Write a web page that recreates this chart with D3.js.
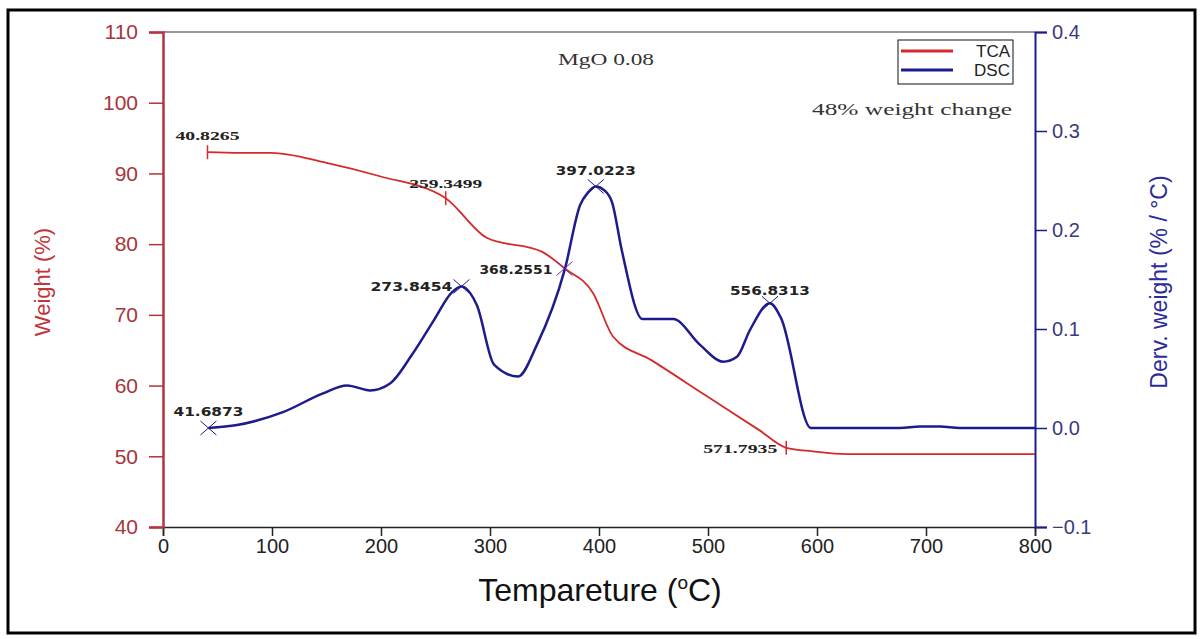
<!DOCTYPE html>
<html>
<head>
<meta charset="utf-8">
<style>
    body { margin: 0; background: #fff; }
</style>
</head>
<body>
<script src="https://d3js.org/d3.v7.min.js"></script>
<script>
    // TGA curve (weight %)
    const tgaTemp = [40.83, 70, 99, 150, 199, 259.35, 297, 348, 368.26, 394.5, 413, 448, 497, 547, 571.79, 596, 627.5, 700, 800];
    const tgaWeight = [93.0, 92.9, 92.9, 91.5, 89.6, 86.5, 80.9, 78.9, 76.6, 73.1, 66.9, 63.6, 58.7, 53.7, 51.2, 50.7, 50.3, 50.3, 50.3];

    // derivative curve (% / °C)
    const dscTemp = [41.69, 67.9, 110, 146.8, 168.8, 190, 208.3, 228.4, 248.6, 265, 273.85, 282, 288, 303.7, 325.7, 343, 368.8, 382.6, 390, 397.02, 405, 412, 421, 440, 468, 492.7, 513.8, 526.6, 538.5, 556.83, 567, 594.5, 676, 694.5, 713, 731, 800];
    const dscValue = [0.0, 0.003, 0.016, 0.035, 0.043, 0.038, 0.045, 0.074, 0.109, 0.137, 0.143, 0.136, 0.124, 0.064, 0.052, 0.084, 0.161, 0.225, 0.238, 0.244, 0.240, 0.228, 0.179, 0.110, 0.110, 0.084, 0.067, 0.072, 0.099, 0.126, 0.111, 0.0, 0.0, 0.0015, 0.0015, 0.0, 0.0];

    // labelled points
    const tgaMarkTemp = [40.8265, 259.3499, 571.7935];
    const tgaMarkWeight = [93.0, 86.5, 51.2];
    const dscMarkTemp = [41.6873, 273.8454, 368.2551, 397.0223, 556.8313];
    const dscMarkValue = [0.0, 0.143, 0.161, 0.244, 0.126];

    const xTicks = [0, 100, 200, 300, 400, 500, 600, 700, 800];
    const leftTicks = [40, 50, 60, 70, 80, 90, 100, 110];
    const rightTicks = [-0.1, 0.0, 0.1, 0.2, 0.3, 0.4];

    const W = 1202, H = 639;
    const L = 163, R = 1035, T = 32, B = 527;
    const red = "#d42a2a", redDark = "#b3343a", navy = "#1c1c8c";
    const sans = "Liberation Sans, Arial, sans-serif";
    const serif = "Liberation Serif, Times New Roman, serif";

    const svg = d3.select("body").append("svg").attr("width", W).attr("height", H)
        .attr("font-family", sans);

    // outer frame
    svg.append("rect").attr("x", 8).attr("y", 10).attr("width", 1187).attr("height", 623)
        .attr("fill", "none").attr("stroke", "#000").attr("stroke-width", 3);

    const x = d3.scaleLinear().domain([0, 800]).range([L, R]);
    const yL = d3.scaleLinear().domain([40, 110]).range([B, T]);
    const yR = d3.scaleLinear().domain([-0.1, 0.4]).range([B, T]);

    // top frame line
    svg.append("line").attr("x1", L).attr("x2", R).attr("y1", T).attr("y2", T)
        .attr("stroke", "#333").attr("stroke-width", 1.2);

    // x axis
    const gx = svg.append("g").attr("transform", `translate(0,${B})`)
        .call(d3.axisBottom(x).tickValues(xTicks).tickSize(9).tickPadding(3));
    gx.select(".domain").attr("stroke", "#222").attr("stroke-width", 1.5);
    gx.selectAll(".tick line").attr("stroke", "#222").attr("stroke-width", 1.5);
    gx.selectAll(".tick text").attr("font-size", 20).attr("fill", "#222").attr("font-family", sans);

    // left axis
    const gl = svg.append("g").attr("transform", `translate(${L},0)`)
        .call(d3.axisLeft(yL).tickValues(leftTicks).tickSize(14).tickPadding(11));
    gl.select(".domain").attr("stroke", redDark).attr("stroke-width", 2.5);
    gl.selectAll(".tick line").attr("stroke", redDark).attr("stroke-width", 1.5);
    gl.selectAll(".tick text").attr("font-size", 21).attr("fill", "#a8343c").attr("font-family", sans);

    // right axis
    const gr = svg.append("g").attr("transform", `translate(${R},0)`)
        .call(d3.axisRight(yR).tickValues(rightTicks).tickFormat(d3.format(".1f")).tickSize(12).tickPadding(5));
    gr.select(".domain").attr("stroke", navy).attr("stroke-width", 2);
    gr.selectAll(".tick line").attr("stroke", navy).attr("stroke-width", 1.5);
    gr.selectAll(".tick text").attr("font-size", 20).attr("fill", "#3a3a7c").attr("font-family", sans);

    // axis titles
    svg.append("text").attr("transform", "translate(50,282) rotate(-90)")
        .attr("text-anchor", "middle").attr("font-size", 22).attr("fill", "#c43438")
        .text("Weight (%)");
    svg.append("text").attr("transform", "translate(1167,282) rotate(-90)")
        .attr("text-anchor", "middle").attr("font-size", 23).attr("fill", "#2b2b9b")
        .text("Derv. weight (% / °C)");
    const xt = svg.append("text").attr("x", 600).attr("y", 601).attr("text-anchor", "middle")
        .attr("font-size", 32).attr("fill", "#111");
    xt.append("tspan").text("Tempareture (");
    xt.append("tspan").attr("font-size", 19).attr("dy", -12).text("o");
    xt.append("tspan").attr("dy", 12).text("C)");

    // curves
    const tga = tgaTemp.map((t, i) => [t, tgaWeight[i]]);
    const dsc = dscTemp.map((t, i) => [t, dscValue[i]]);

    svg.append("path").datum(tga)
        .attr("d", d3.line().x(d => x(d[0])).y(d => yL(d[1])).curve(d3.curveMonotoneX))
        .attr("fill", "none").attr("stroke", red).attr("stroke-width", 1.8);

    svg.append("path").datum(dsc)
        .attr("d", d3.line().x(d => x(d[0])).y(d => yR(d[1])).curve(d3.curveMonotoneX))
        .attr("fill", "none").attr("stroke", navy).attr("stroke-width", 2.5);

    // markers: TGA gets a short vertical bar, DSC an X
    tgaMarkTemp.forEach((t, i) => {
        const px = x(t), py = yL(tgaMarkWeight[i]);
        svg.append("line").attr("x1", px).attr("x2", px).attr("y1", py - 7).attr("y2", py + 7)
            .attr("stroke", red).attr("stroke-width", 1.5);
    });
    dscMarkTemp.forEach((t, i) => {
        const px = x(t), py = yR(dscMarkValue[i]);
        const c = i == 2 ? "#7a2a9a" : navy;
        svg.append("line").attr("x1", px - 8).attr("x2", px + 8).attr("y1", py - 7).attr("y2", py + 7)
            .attr("stroke", c).attr("stroke-width", 1);
        svg.append("line").attr("x1", px - 8).attr("x2", px + 8).attr("y1", py + 7).attr("y2", py - 7)
            .attr("stroke", c).attr("stroke-width", 1);
    });

    // value labels
    const serifOff = [[0, -12, "middle", 64], [0, -10, "middle", 73], [-9, 5, "end", 74]];
    tgaMarkTemp.forEach((t, i) => {
        const o = serifOff[i];
        svg.append("text").attr("x", x(t) + o[0]).attr("y", yL(tgaMarkWeight[i]) + o[1])
            .attr("text-anchor", o[2]).attr("font-family", serif)
            .attr("font-weight", "bold").attr("font-size", 13).attr("fill", "#222")
            .attr("textLength", o[3]).attr("lengthAdjust", "spacingAndGlyphs")
            .text(t.toFixed(4));
    });
    const sansOff = [[0, -12, "middle", 70], [-9, 5, "end", 82], [-12, 5, "end", 73], [0, -11, "middle", 80], [0, -8, "middle", 80]];
    dscMarkTemp.forEach((t, i) => {
        const o = sansOff[i];
        svg.append("text").attr("x", x(t) + o[0]).attr("y", yR(dscMarkValue[i]) + o[1])
            .attr("text-anchor", o[2]).attr("font-family", "DejaVu Sans, sans-serif")
            .attr("font-weight", "bold").attr("font-size", 12).attr("fill", "#222")
            .attr("textLength", o[3]).attr("lengthAdjust", "spacingAndGlyphs")
            .text(t.toFixed(4));
    });

    // notes
    svg.append("text").attr("x", 606).attr("y", 65).attr("text-anchor", "middle")
        .attr("font-family", serif).attr("font-size", 16).attr("fill", "#333")
        .attr("textLength", 96).attr("lengthAdjust", "spacingAndGlyphs").text("MgO 0.08");
    svg.append("text").attr("x", 1012).attr("y", 115).attr("text-anchor", "end")
        .attr("font-family", serif).attr("font-size", 16).attr("fill", "#333")
        .attr("textLength", 200).attr("lengthAdjust", "spacingAndGlyphs").text("48% weight change");

    // legend
    const lg = svg.append("g");
    lg.append("rect").attr("x", 898).attr("y", 40).attr("width", 115).attr("height", 44)
        .attr("fill", "#fff").attr("stroke", "#111").attr("stroke-width", 1);
    const legendItems = [["TCA", red], ["DSC", navy]];
    legendItems.forEach((d, i) => {
        const yy = 51 + i * 19;
        lg.append("line").attr("x1", 901).attr("x2", 953).attr("y1", yy).attr("y2", yy)
            .attr("stroke", d[1]).attr("stroke-width", 3);
        lg.append("text").attr("x", 1010).attr("y", yy + 6).attr("text-anchor", "end")
            .attr("font-size", 17).attr("fill", "#222").attr("font-family", sans).text(d[0]);
    });
</script>
</body>
</html>
